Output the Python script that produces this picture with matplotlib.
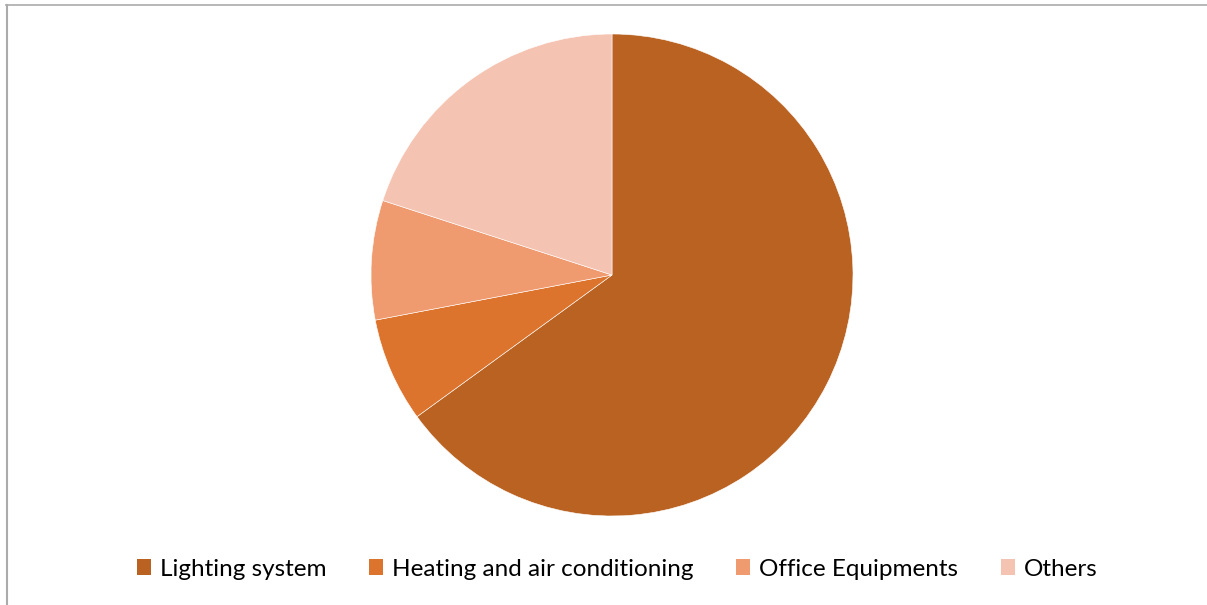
import matplotlib.pyplot as plt
from matplotlib.patches import Patch
from matplotlib.lines import Line2D

labels = ['Lighting system', 'Heating and air conditioning', 'Office Equipments', 'Others']
sizes = [65, 7, 8, 20]
colors = ['#B96222', '#DD742D', '#F09A70', '#F5C3B2']

W, H = 1207, 605
fig = plt.figure(figsize=(W / 100, H / 100), dpi=100)

# pie area: centre (612, 275), radius 241 px
cx, cy, r = 612, 275, 241
ax = fig.add_axes([(cx - r) / W, (H - cy - r) / H, 2 * r / W, 2 * r / H])
ax.pie(sizes, colors=colors, startangle=90, counterclock=False, radius=1,
       wedgeprops={"edgecolor": "white", "linewidth": 0.4})
ax.set_xlim(-1, 1)
ax.set_ylim(-1, 1)
ax.set_aspect('equal')
ax.axis('off')

# chart border (top and left edges visible)
fig.add_artist(Line2D([6 / W, 1], [1 - 5 / H, 1 - 5 / H], color='#ABABAB', lw=1.2))
fig.add_artist(Line2D([6.5 / W, 6.5 / W], [0, 1 - 5 / H], color='#ABABAB', lw=1.5))

handles = [Patch(facecolor=c, edgecolor='none') for c in colors]
fig.legend(handles, labels, loc='center', bbox_to_anchor=(617 / W, 1 - 569 / H),
           ncol=4, frameon=False, prop={'family': 'Lato', 'size': 17.5},
           handlelength=0.6, handleheight=0.6, handletextpad=0.35,
           columnspacing=1.75)

fig.savefig('out.png', dpi=100)
